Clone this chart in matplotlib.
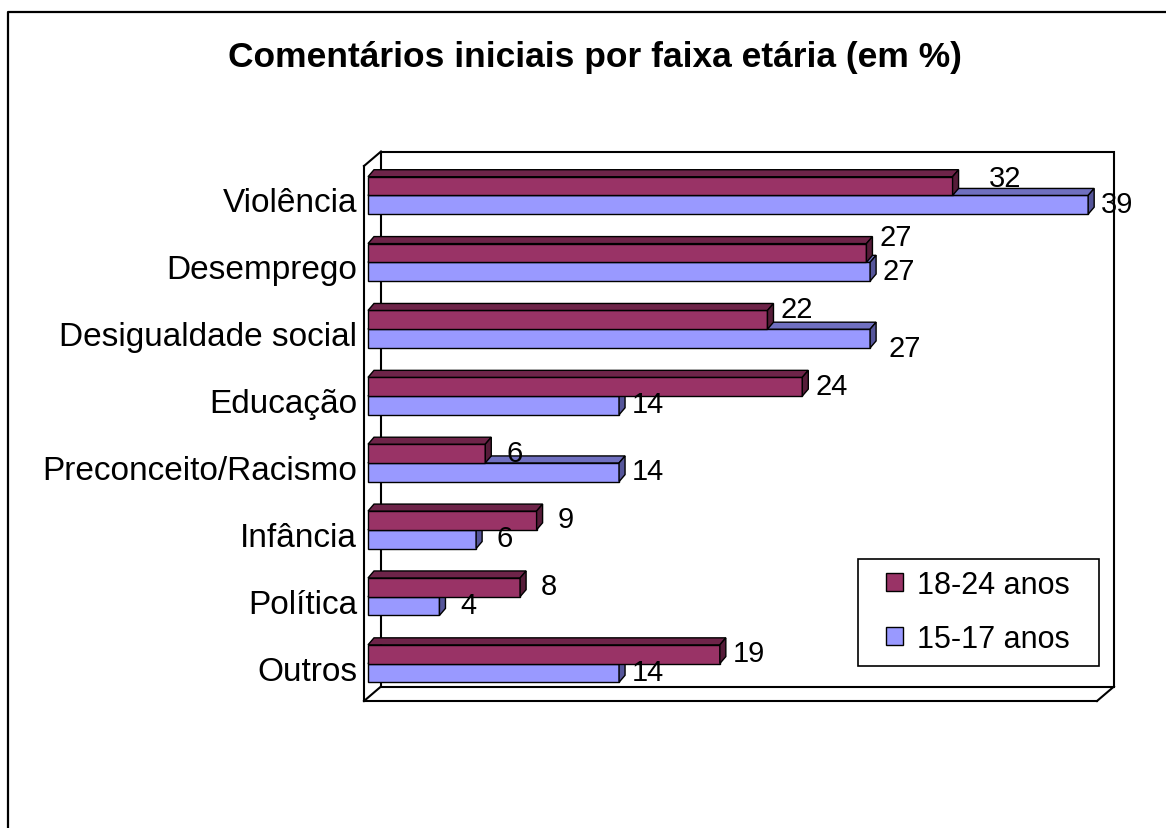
import matplotlib.pyplot as plt
from matplotlib.patches import Polygon, Patch, Rectangle
from matplotlib.lines import Line2D

plt.rcParams['font.family'] = ['Liberation Sans', 'DejaVu Sans']

#%% data
categorias = ['Violência', 'Desemprego', 'Desigualdade social', 'Educação',
              'Preconceito/Racismo', 'Infância', 'Política', 'Outros']
anos_18_24 = [31.9, 27.2, 21.8, 23.7, 6.4, 9.2, 8.3, 19.2]
anos_15_17 = [39.3, 27.4, 27.4, 13.7, 13.7, 5.9, 3.9, 13.7]
series_nomes = ['18-24 anos', '15-17 anos']

#%% style
W, H = 1166, 829
bordo, bordo_topo, bordo_lado = '#993366', '#6e2449', '#561c39'
lilas, lilas_topo, lilas_lado = '#9999ff', '#7070c0', '#55559a'
BX, BY = 4, 4          # bars sit a bit behind the front plane (px)
DX, DY = 6, 7          # bar depth (px)
WX, WY = 17, 14.5      # back wall depth (px)
meia = 0.28            # bar thickness (category units)
# Excel moved a few labels to avoid collisions: (row, serie) -> (dx, dy) px
desvio_rotulo = {(0, 0): (24, 7), (1, 0): (0, 15), (2, 0): (0, 10), (2, 1): (6, -10)}

fig = plt.figure(figsize=(W / 100, H / 100), dpi=100)
ax = fig.add_axes([364 / W, 1 - 702 / H, (1097 - 364) / W, (702 - 167) / H])
ax.set_xlim(0, 40)
ax.set_ylim(len(categorias) - 0.5, -0.5)


def px(x, y, dx=0, dy=0):
    # data point moved by dx, dy screen pixels (dy up)
    X, Y = ax.transData.transform((x, y))
    return ax.transData.inverted().transform((X + dx, Y + dy))


def poly(pts, cor, z):
    ax.add_patch(Polygon(pts, closed=True, facecolor=cor, edgecolor='black',
                         linewidth=1.0, joinstyle='miter', clip_on=False, zorder=z))


def barra3d(ytop, ybot, val, frente, topo, lado, z):
    a = px(0, ybot, BX, BY)
    b = px(val, ybot, BX, BY)
    c = px(val, ytop, BX, BY)
    d = px(0, ytop, BX, BY)
    c2 = px(val, ytop, BX + DX, BY + DY)
    d2 = px(0, ytop, BX + DX, BY + DY)
    b2 = px(val, ybot, BX + DX, BY + DY)
    poly([a, b, c, d], frente, z)
    poly([d, c, c2, d2], topo, z)
    poly([b, b2, c2, c], lado, z)


#%% 3d frame: back wall + slanted edges
x0, x1 = ax.get_xlim()
yb, yt = ax.get_ylim()
cantos = [(x0, yt), (x1, yt), (x1, yb), (x0, yb)]
fundo = [px(x, y, WX, WY) for x, y in cantos]
ax.add_patch(Polygon(fundo, closed=True, fill=False, edgecolor='black',
                     linewidth=1.5, clip_on=False, zorder=1))
for x, y in [(x0, yt), (x0, yb), (x1, yb)]:
    p = px(x, y)
    q = px(x, y, WX, WY)
    ax.add_line(Line2D([p[0], q[0]], [p[1], q[1]], color='black',
                       linewidth=1.5, clip_on=False, zorder=1))

#%% bars
for i in range(len(categorias)):
    barra3d(i, i + meia, anos_15_17[i], lilas, lilas_topo, lilas_lado, 3 + 2 * i)
    barra3d(i - meia, i, anos_18_24[i], bordo, bordo_topo, bordo_lado, 4 + 2 * i)

#%% value labels
for i in range(len(categorias)):
    for s, (vals, yc) in enumerate([(anos_18_24, i - meia / 2), (anos_15_17, i + meia / 2)]):
        ox, oy = desvio_rotulo.get((i, s), (0, 0))
        pos = px(vals[i], yc, 33 + ox, -3 + oy)
        ax.text(pos[0], pos[1], '%.0f' % vals[i], ha='center', va='baseline',
                fontsize=21, clip_on=False, zorder=30)

#%% axes cosmetics
for lado in ['top', 'right']:
    ax.spines[lado].set_visible(False)
for lado in ['left', 'bottom']:
    ax.spines[lado].set_linewidth(1.5)
ax.set_xticks([])
ax.set_yticks(range(len(categorias)))
ax.set_yticklabels(categorias, fontsize=24)
ax.tick_params(axis='y', length=0, pad=5)
ax.patch.set_visible(False)

#%% legend (entries from matplotlib, box drawn separately)
alcas = [Patch(facecolor=bordo, edgecolor='black', linewidth=1.0),
         Patch(facecolor=lilas, edgecolor='black', linewidth=1.0)]
leg = fig.legend(alcas, series_nomes, loc='center left',
                 bbox_to_anchor=(886 / W, 1 - 613 / H), fontsize=22,
                 frameon=False, handlelength=0.55, handleheight=0.55,
                 handletextpad=0.45, borderpad=0, borderaxespad=0,
                 labelspacing=0.78)
fig.add_artist(Rectangle((858 / W, 1 - 667 / H), (1099 - 858) / W, (667 - 560) / H,
                         transform=fig.transFigure, fill=False,
                         edgecolor='black', linewidth=1.2))

#%% title and outer border
fig.text(595 / W, 1 - 67 / H, 'Comentários iniciais por faixa etária (em %)',
         ha='center', va='baseline', fontsize=25.5, fontweight='bold')
fig.add_artist(Line2D([8 / W, 8 / W, 1.01], [-0.01, 1 - 13 / H, 1 - 13 / H],
                      transform=fig.transFigure, color='black', linewidth=1.6))

fig.savefig('out.png', dpi=100)
